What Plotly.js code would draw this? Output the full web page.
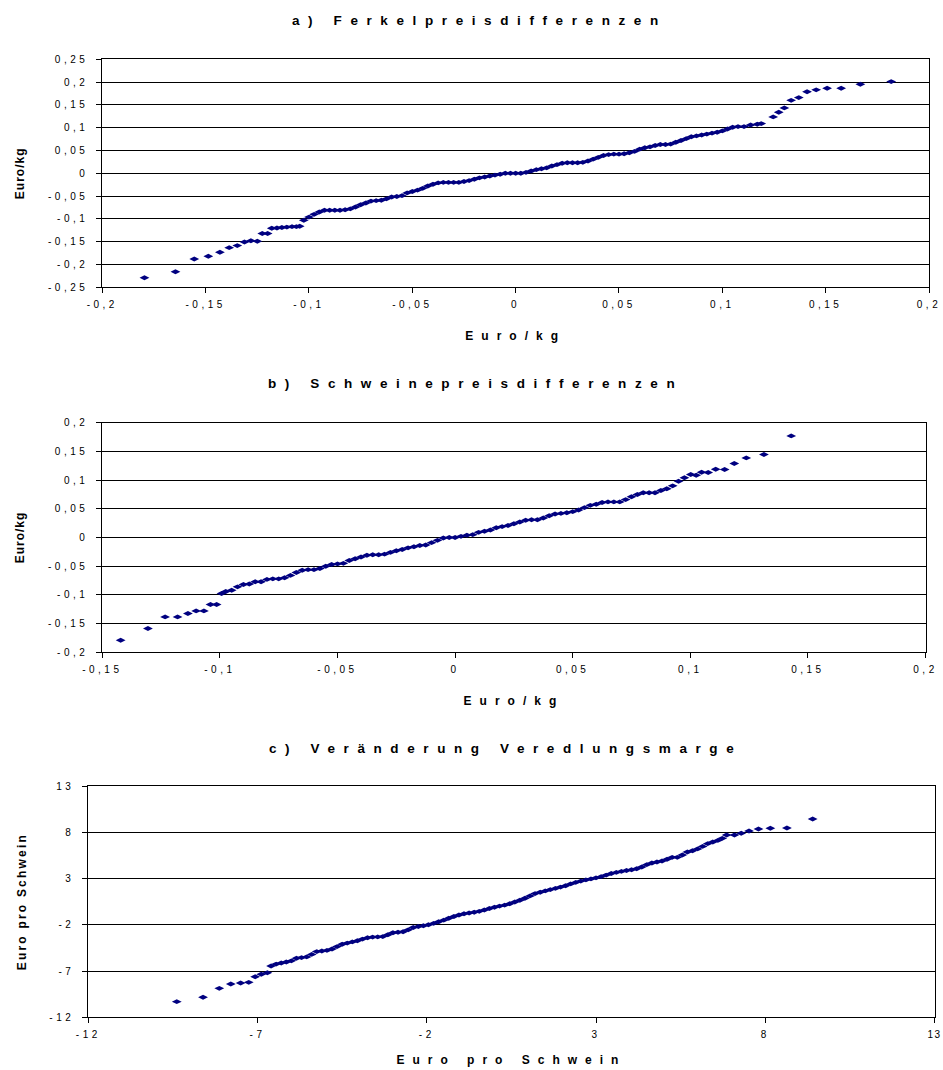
<!DOCTYPE html>
<html>
<head>
<meta charset="utf-8">
<script src="https://cdn.plot.ly/plotly-3.0.1.min.js"></script>
<style>
  html, body { margin: 0; padding: 0; background: #fff; }
  #chart { width: 943px; height: 1070px; }
  .xtick text, .ytick text, .x2tick text, .y2tick text, .x3tick text, .y3tick text { letter-spacing: 3.5px; }
  .x3tick:last-of-type text { letter-spacing: 1.5px; }
  .annotation-text { letter-spacing: 8.6px; }
  .g-xtitle text, .g-x2title text, .g-x3title text { letter-spacing: 8px; }
  .g-ytitle text, .g-y2title text { letter-spacing: 1px; }
  .g-y3title text { letter-spacing: 2.2px; }
</style>
</head>
<body>
<div id="chart"></div>
<script>
// ---------- Data ----------
// a) Ferkelpreisdifferenzen
const aX = [-0.1796,-0.1646,-0.1555,-0.1487,-0.1431,-0.1386,-0.1347,-0.1312,-0.1281,-0.125,-0.1226,-0.12,-0.118,-0.1155,-0.1131,-0.1107,-0.1082,-0.1061,-0.1045,
  -0.1025,-0.1,-0.0975,-0.095,-0.0925,-0.09,-0.0875,-0.085,-0.0825,-0.08,-0.0775,-0.075,-0.0725,-0.07,-0.0675,-0.065,-0.0625,-0.06,-0.0575,-0.055,-0.0525,-0.05,-0.0475,-0.045,-0.0425,-0.04,-0.0375,-0.035,-0.0325,-0.03,-0.0275,-0.025,-0.0225,-0.02,-0.0175,-0.015,-0.0125,-0.01,-0.0075,-0.005,-0.0025,0,0.0025,0.005,0.0075,0.01,0.0125,0.015,0.0175,0.02,0.0225,0.025,0.0275,0.03,0.0325,0.035,0.0375,0.04,0.0425,0.045,0.0475,0.05,0.0525,0.055,0.0575,0.06,0.0625,0.065,0.0675,0.07,0.0725,0.075,0.0775,0.08,0.0825,0.085,0.0875,0.09,0.0925,0.095,0.0975,0.1,0.1025,0.105,
  0.1076,0.1105,0.1137,0.1169,0.1188,0.1246,0.1273,0.13,0.1333,0.137,0.141,0.1454,0.1507,0.1575,0.1668,0.1817];
const aY = [-0.229,-0.216,-0.188,-0.182,-0.173,-0.163,-0.1585,-0.1505,-0.148,-0.149,-0.132,-0.132,-0.1205,-0.12,-0.119,-0.118,-0.117,-0.117,-0.116,
  -0.103,-0.096,-0.09,-0.085,-0.081,-0.081,-0.081,-0.081,-0.08,-0.078,-0.074,-0.069,-0.065,-0.061,-0.06,-0.059,-0.056,-0.052,-0.051,-0.049,-0.043,-0.04,-0.037,-0.033,-0.028,-0.024,-0.021,-0.02,-0.02,-0.02,-0.02,-0.018,-0.016,-0.013,-0.01,-0.008,-0.006,-0.004,-0.002,0,0,0,0,0.002,0.005,0.008,0.01,0.012,0.016,0.019,0.022,0.023,0.023,0.023,0.024,0.027,0.031,0.035,0.039,0.041,0.042,0.042,0.043,0.045,0.048,0.053,0.056,0.058,0.061,0.063,0.063,0.064,0.068,0.072,0.076,0.08,0.082,0.084,0.086,0.088,0.09,0.093,0.097,0.101,
  0.1024,0.1024,0.106,0.1075,0.109,0.1237,0.1338,0.1434,0.16,0.166,0.179,0.183,0.1864,0.1864,0.1952,0.2011];

// b) Schweinepreisdifferenzen
const bX = [-0.1422,-0.1306,-0.1233,-0.118,-0.1136,-0.1101,-0.1068,-0.104,-0.1014,-0.0993,
  -0.0975,-0.095,-0.0925,-0.09,-0.0875,-0.085,-0.0825,-0.08,-0.0775,-0.075,-0.0725,-0.07,-0.0675,-0.065,-0.0625,-0.06,-0.0575,-0.055,-0.0525,-0.05,-0.0475,-0.045,-0.0425,-0.04,-0.0375,-0.035,-0.0325,-0.03,-0.0275,-0.025,-0.0225,-0.02,-0.0175,-0.015,-0.0125,-0.01,-0.0075,-0.005,-0.0025,0,0.0025,0.005,0.0075,0.01,0.0125,0.015,0.0175,0.02,0.0225,0.025,0.0275,0.03,0.0325,0.035,0.0375,0.04,0.0425,0.045,0.0475,0.05,0.0525,0.055,0.0575,0.06,0.0625,0.065,0.0675,0.07,0.0725,0.075,0.0775,0.08,0.0825,0.085,0.0875,0.09,0.0925,0.095,0.0975,
  0.1002,0.1025,0.1048,0.1076,0.1108,0.1146,0.1187,0.1238,0.1313,0.1429];
const bY = [-0.179,-0.1585,-0.1383,-0.1383,-0.1324,-0.1279,-0.1279,-0.1167,-0.1167,-0.0976,
  -0.094,-0.092,-0.086,-0.082,-0.081,-0.077,-0.077,-0.073,-0.072,-0.072,-0.07,-0.066,-0.061,-0.057,-0.056,-0.056,-0.054,-0.05,-0.047,-0.046,-0.045,-0.04,-0.037,-0.034,-0.031,-0.03,-0.03,-0.029,-0.026,-0.023,-0.021,-0.018,-0.016,-0.014,-0.013,-0.009,-0.005,-0.001,0,0,0.002,0.004,0.005,0.009,0.011,0.013,0.017,0.019,0.021,0.024,0.027,0.03,0.031,0.031,0.034,0.038,0.041,0.042,0.043,0.045,0.048,0.052,0.056,0.058,0.061,0.062,0.062,0.062,0.066,0.071,0.075,0.078,0.078,0.078,0.082,0.085,0.09,0.098,0.104,
  0.1098,0.1085,0.1138,0.1132,0.119,0.1185,0.1289,0.1387,0.1446,0.177];

// c) Veränderung Veredlungsmarge
const cX = [-9.386,-8.61,-8.13,-7.79,-7.5,-7.26,-7.07,-6.89,-6.71,
  -6.6,-6.45,-6.3,-6.15,-6,-5.85,-5.7,-5.55,-5.4,-5.25,-5.1,-4.95,-4.8,-4.65,-4.5,-4.35,-4.2,-4.05,-3.9,-3.75,-3.6,-3.45,-3.3,-3.15,-3,-2.85,-2.7,-2.55,-2.4,-2.25,-2.1,-1.95,-1.8,-1.65,-1.5,-1.35,-1.2,-1.05,-0.9,-0.75,-0.6,-0.45,-0.3,-0.15,0,0.15,0.3,0.45,0.6,0.75,0.9,1.05,1.2,1.35,1.5,1.65,1.8,1.95,2.1,2.25,2.4,2.55,2.7,2.85,3,3.15,3.3,3.45,3.6,3.75,3.9,4.05,4.2,4.35,4.5,4.65,4.8,4.95,5.1,5.25,5.4,5.55,5.7,5.85,6,6.15,6.3,6.45,6.6,6.73,
  6.86,7.09,7.29,7.52,7.8,8.15,8.64,9.4];
const cY = [-10.31,-9.84,-8.87,-8.4,-8.29,-8.22,-7.61,-7.35,-7.18,
  -6.45,-6.25,-6.13,-6.02,-5.9,-5.62,-5.55,-5.47,-5.2,-4.9,-4.84,-4.77,-4.62,-4.36,-4.1,-3.98,-3.85,-3.72,-3.55,-3.4,-3.33,-3.31,-3.28,-3.08,-2.86,-2.8,-2.76,-2.55,-2.3,-2.18,-2.1,-2,-1.85,-1.68,-1.5,-1.3,-1.1,-0.95,-0.8,-0.72,-0.64,-0.55,-0.4,-0.24,-0.1,0.02,0.12,0.28,0.46,0.65,0.86,1.12,1.37,1.52,1.66,1.8,1.93,2.07,2.22,2.42,2.58,2.72,2.85,2.96,3.07,3.2,3.37,3.54,3.66,3.77,3.86,3.95,4.05,4.25,4.5,4.67,4.78,4.89,5.08,5.29,5.29,5.55,5.86,6,6.2,6.47,6.77,6.95,7.12,7.34,
  7.7,7.7,7.89,8.14,8.35,8.43,8.46,9.43];

// ---------- Tick values and labels ----------
const aXTicks = [-0.2,-0.15,-0.1,-0.05,0,0.05,0.1,0.15,0.2];
const aXLabels = ['-0,2','-0,15','-0,1','-0,05','0','0,05','0,1','0,15','0,2'];
const aYTicks = [-0.25,-0.2,-0.15,-0.1,-0.05,0,0.05,0.1,0.15,0.2,0.25];
const aYLabels = ['-0,25','-0,2','-0,15','-0,1','-0,05','0','0,05','0,1','0,15','0,2','0,25'];
const bXTicks = [-0.15,-0.1,-0.05,0,0.05,0.1,0.15,0.2];
const bXLabels = ['-0,15','-0,1','-0,05','0','0,05','0,1','0,15','0,2'];
const bYTicks = [-0.2,-0.15,-0.1,-0.05,0,0.05,0.1,0.15,0.2];
const bYLabels = ['-0,2','-0,15','-0,1','-0,05','0','0,05','0,1','0,15','0,2'];
const cTicks = [-12,-7,-2,3,8,13];
const cLabels = ['-12','-7','-2','3','8','13'];

const titles = ['a) Ferkelpreisdifferenzen', 'b) Schweinepreisdifferenzen', 'c) Veränderung Veredlungsmarge'];
const xTitles = ['Euro/kg', 'Euro/kg', 'Euro pro Schwein'];
const yTitles = ['Euro/kg', 'Euro/kg', 'Euro pro Schwein'];

// ---------- Drawing ----------
const W = 943, H = 1070;
const FONT = 'Liberation Sans, Arial, sans-serif';
const marker = {symbol: 'diamond-wide', size: 7, color: '#000080', line: {width: 0}};

const traces = [
  {x: aX, y: aY, type: 'scatter', mode: 'markers', marker: marker, xaxis: 'x', yaxis: 'y', hoverinfo: 'x+y'},
  {x: bX, y: bY, type: 'scatter', mode: 'markers', marker: marker, xaxis: 'x2', yaxis: 'y2', hoverinfo: 'x+y'},
  {x: cX, y: cY, type: 'scatter', mode: 'markers', marker: marker, xaxis: 'x3', yaxis: 'y3', hoverinfo: 'x+y'}
];

function px2x(a, b) { return [a / W, b / W]; }
function px2y(top, bottom) { return [1 - bottom / H, 1 - top / H]; }

function xAxis(domain, range, tv, tt, title, anchor, standoff) {
  return {
    domain: domain, range: range, anchor: anchor,
    tickmode: 'array', tickvals: tv, ticktext: tt,
    showgrid: false, zeroline: false,
    showline: true, linecolor: '#000', linewidth: 1, mirror: true,
    ticks: 'outside', ticklen: 5, tickcolor: '#000', tickwidth: 1,
    ticklabelstandoff: 3, ticklabeloverflow: 'allow',
    tickfont: {family: FONT, size: 10, color: '#000'},
    title: {text: title, standoff: standoff, font: {family: FONT, size: 12, color: '#000', weight: 'bold'}},
    fixedrange: true
  };
}
function yAxis(domain, range, tv, tt, title, anchor, size) {
  return {
    domain: domain, range: range, anchor: anchor,
    tickmode: 'array', tickvals: tv, ticktext: tt,
    showgrid: true, gridcolor: '#000', gridwidth: 1, zeroline: false,
    showline: true, linecolor: '#000', linewidth: 1, mirror: true,
    ticks: 'outside', ticklen: 5, tickcolor: '#000', tickwidth: 1,
    ticklabelstandoff: 6, ticklabeloverflow: 'allow',
    tickfont: {family: FONT, size: 10, color: '#000'},
    title: {text: title, standoff: 20, font: {family: FONT, size: size, color: '#000', weight: 'bold'}},
    fixedrange: true
  };
}

const layout = {
  width: W, height: H,
  margin: {l: 0, r: 0, t: 0, b: 0},
  paper_bgcolor: '#fff', plot_bgcolor: '#fff',
  showlegend: false,
  font: {family: FONT, color: '#000'},
  xaxis:  xAxis(px2x(102.3, 929), [-0.2, 0.2], aXTicks, aXLabels, xTitles[0], 'y', 22),
  yaxis:  yAxis(px2y(59.3, 287.3), [-0.25, 0.25], aYTicks, aYLabels, yTitles[0], 'x', 12),
  xaxis2: xAxis(px2x(102.3, 925.5), [-0.15, 0.2], bXTicks, bXLabels, xTitles[1], 'y2', 22),
  yaxis2: yAxis(px2y(422.7, 652.3), [-0.2, 0.2], bYTicks, bYLabels, yTitles[1], 'x2', 12),
  xaxis3: xAxis(px2x(88.3, 934.5), [-12, 13], cTicks, cLabels, xTitles[2], 'y3', 16),
  yaxis3: yAxis(px2y(786, 1017.3), [-12, 13], cTicks, cLabels, yTitles[2], 'x3', 12),
  annotations: [
    {text: titles[0], xref: 'paper', yref: 'paper', x: 480 / W, y: 1 - 20 / H, xanchor: 'center', yanchor: 'middle', showarrow: false,
     font: {family: FONT, size: 13.5, color: '#000', weight: 'bold'}},
    {text: titles[1], xref: 'paper', yref: 'paper', x: 475 / W, y: 1 - 383 / H, xanchor: 'center', yanchor: 'middle', showarrow: false,
     font: {family: FONT, size: 13.5, color: '#000', weight: 'bold'}},
    {text: titles[2], xref: 'paper', yref: 'paper', x: 505 / W, y: 1 - 748 / H, xanchor: 'center', yanchor: 'middle', showarrow: false,
     font: {family: FONT, size: 13.5, color: '#000', weight: 'bold'}}
  ]
};

Plotly.newPlot('chart', traces, layout, {displayModeBar: false, responsive: false});
</script>
</body>
</html>
